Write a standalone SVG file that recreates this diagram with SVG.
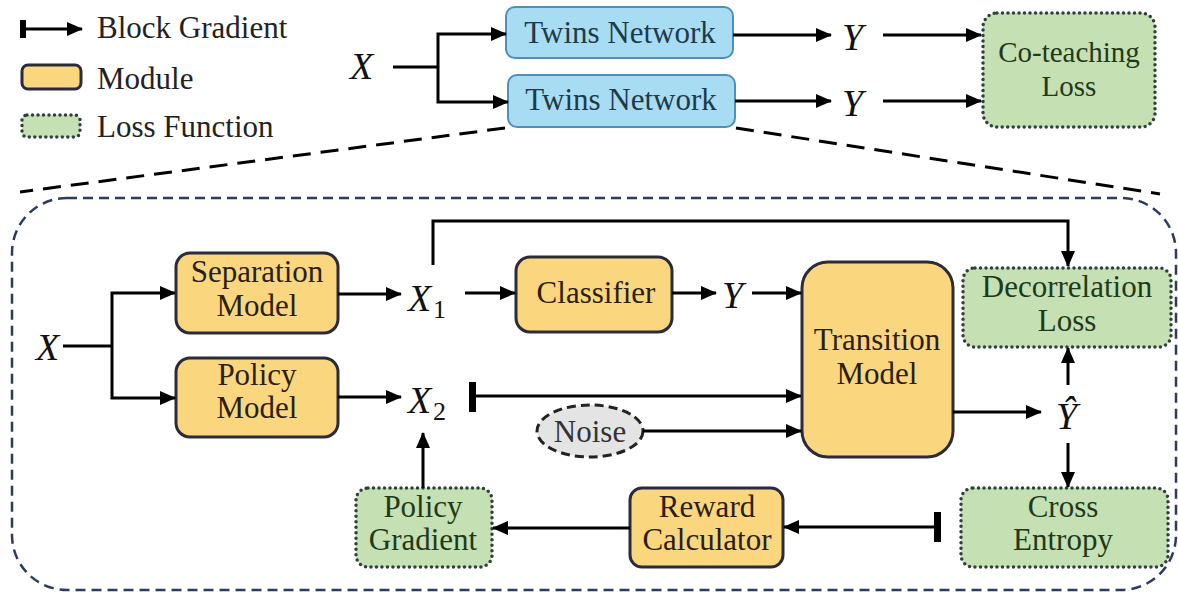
<svg xmlns="http://www.w3.org/2000/svg" width="1178" height="596" viewBox="0 0 1178 596" font-family="Liberation Serif, Times New Roman, serif">
<defs>
<marker id="ah" markerWidth="16" markerHeight="14" refX="15" refY="7" orient="auto" markerUnits="userSpaceOnUse">
<path d="M0,0 L16,7 L0,14 Z" fill="#000"/>
</marker>
<style>
text{font-family:'Liberation Serif','Times New Roman',serif}
.t{font-size:31px;text-anchor:middle}
.lg{font-size:31px;fill:#222}
.m{font-style:italic;font-size:38px;fill:#111}
.sub{font-size:26px;fill:#111}
.mod{fill:#fad77f;stroke:#2b2b3b;stroke-width:3}
.loss{fill:#c5e0b3;stroke:#2e3f3f;stroke-width:3.5;stroke-dasharray:0 5.5;stroke-linecap:round}
.tw{fill:#a8dcf3;stroke:#4f8fb8;stroke-width:2}
.mt{fill:#2a2010}
.lt{fill:#1f3a1a}
.twt{fill:#1d3a4a}
.c{fill:none;stroke:#000;stroke-width:3}
.ca{fill:none;stroke:#000;stroke-width:3;marker-end:url(#ah)}
.bar{fill:#000}
</style>
</defs>
<rect width="1178" height="596" fill="#fff"/>

<g id="legend">
<rect class="bar" x="20" y="20" width="6" height="18"/>
<line class="ca" x1="23" y1="29" x2="82" y2="29"/>
<text class="lg" x="97" y="38">Block Gradient</text>
<rect class="mod" x="22" y="65" width="59" height="24" rx="6"/>
<text class="lg" x="97" y="89">Module</text>
<rect class="loss" x="22" y="115" width="58" height="22" rx="5"/>
<text class="lg" x="97" y="137">Loss Function</text>
</g>

<g id="zoom-lines" fill="none" stroke="#000" stroke-width="3" stroke-dasharray="18 10">
<line x1="505" y1="128" x2="20" y2="192"/>
<line x1="736" y1="128" x2="1160" y2="194"/>
</g>

<g id="detail-frame">
<rect x="12" y="198" width="1164" height="392" rx="55" fill="none" stroke="#2d3b5c" stroke-width="2.5" stroke-dasharray="10 6"/>
</g>

<g id="top-X"><text class="m" x="350" y="79">X</text></g>
<g id="twins1"><rect class="tw" x="506" y="7" width="227" height="51" rx="9"/><text class="t twt" x="620" y="43">Twins Network</text></g>
<g id="twins2"><rect class="tw" x="508" y="75" width="227" height="52" rx="9"/><text class="t twt" x="621" y="110">Twins Network</text></g>
<g id="top-Y1"><text class="m" x="842" y="50">Y</text></g>
<g id="top-Y2"><text class="m" x="842" y="116">Y</text></g>
<g id="coteaching"><rect class="loss" x="983" y="13" width="172" height="114" rx="14"/><text class="t lt" x="1069" y="62" style="font-size:29px">Co-teaching</text><text class="t lt" x="1069" y="96" style="font-size:29px">Loss</text></g>

<g id="in-X"><text class="m" x="36" y="360">X</text></g>
<g id="separation"><rect class="mod" x="176" y="253" width="162" height="80" rx="14"/><text class="t mt" x="257" y="282">Separation</text><text class="t mt" x="257" y="316">Model</text></g>
<g id="policy"><rect class="mod" x="176" y="358" width="162" height="79" rx="14"/><text class="t mt" x="257" y="385">Policy</text><text class="t mt" x="257" y="418">Model</text></g>
<g id="X1"><text class="m" x="408" y="311">X</text><text class="sub" x="433" y="318">1</text></g>
<g id="X2"><text class="m" x="408" y="413">X</text><text class="sub" x="433" y="420">2</text></g>
<g id="classifier"><rect class="mod" x="516" y="257" width="156" height="75" rx="14"/><text class="t mt" x="596" y="303">Classifier</text></g>
<g id="in-Y"><text class="m" x="722" y="308">Y</text></g>
<g id="noise"><ellipse cx="590" cy="431" rx="53" ry="26" fill="#e4e4e4" stroke="#222" stroke-width="3" stroke-dasharray="9 5"/><text class="t" x="590" y="442" fill="#333">Noise</text></g>
<g id="transition"><rect class="mod" x="802" y="262" width="151" height="195" rx="26"/><text class="t mt" x="877" y="350">Transition</text><text class="t mt" x="877" y="384">Model</text></g>
<g id="decorrelation"><rect class="loss" x="963" y="268" width="208" height="79" rx="12"/><text class="t lt" x="1067" y="297">Decorrelation</text><text class="t lt" x="1067" y="331">Loss</text></g>
<g id="Yhat"><text class="m" x="1056" y="429">Ŷ</text></g>
<g id="crossentropy"><rect class="loss" x="961" y="488" width="207" height="79" rx="12"/><text class="t lt" x="1063" y="517">Cross</text><text class="t lt" x="1063" y="550">Entropy</text></g>
<g id="reward"><rect class="mod" x="630" y="488" width="153" height="79" rx="12"/><text class="t mt" x="707" y="517">Reward</text><text class="t mt" x="707" y="550">Calculator</text></g>
<g id="policygradient"><rect class="loss" x="356" y="488" width="136" height="79" rx="12"/><text class="t lt" x="423" y="517">Policy</text><text class="t lt" x="423" y="550">Gradient</text></g>

<g id="connectors">
<path class="c" d="M393,67 H438"/>
<path class="ca" d="M438,67 V34 H506"/>
<path class="ca" d="M438,67 V102 H508"/>
<line class="ca" x1="733" y1="35" x2="831" y2="35"/>
<line class="ca" x1="735" y1="101" x2="831" y2="101"/>
<line class="ca" x1="883" y1="35" x2="981" y2="35"/>
<line class="ca" x1="883" y1="101" x2="981" y2="101"/>

<path class="c" d="M63,346 H112"/>
<path class="ca" d="M112,346 V293 H175"/>
<path class="ca" d="M112,346 V398 H175"/>
<line class="ca" x1="338" y1="294" x2="401" y2="294"/>
<line class="ca" x1="338" y1="397" x2="401" y2="397"/>
<path class="ca" d="M433,265 V221 H1068 V266"/>
<line class="ca" x1="465" y1="293" x2="515" y2="293"/>
<line class="ca" x1="672" y1="293" x2="716" y2="293"/>
<line class="ca" x1="752" y1="293" x2="801" y2="293"/>
<rect class="bar" x="469" y="382" width="7" height="30"/>
<line class="ca" x1="472" y1="396" x2="801" y2="396"/>
<line class="ca" x1="643" y1="431" x2="801" y2="431"/>
<line class="ca" x1="953" y1="412" x2="1041" y2="412"/>
<line class="ca" x1="1068" y1="385" x2="1068" y2="348"/>
<line class="ca" x1="1068" y1="443" x2="1068" y2="487"/>
<rect class="bar" x="934" y="512" width="7" height="30"/>
<line class="ca" x1="937" y1="527" x2="784" y2="527"/>
<line class="ca" x1="630" y1="528" x2="493" y2="528"/>
<line class="ca" x1="423" y1="488" x2="423" y2="433"/>
</g>
</svg>
